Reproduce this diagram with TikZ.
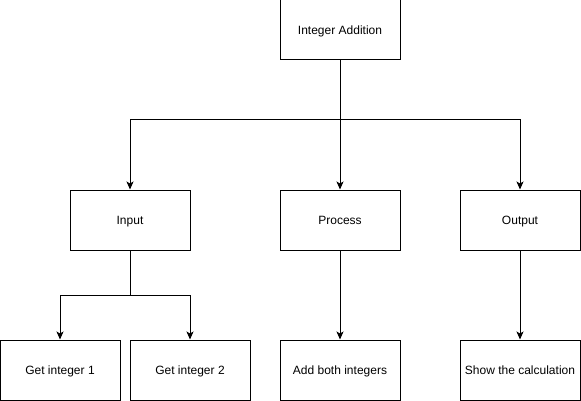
\documentclass[tikz,border=0pt]{standalone}
\usepackage{fontspec}
\setmainfont{Liberation Sans}
\usetikzlibrary{arrows.meta}

\begin{document}
\begin{tikzpicture}[x=1pt,y=-1pt,
  box/.style={draw,line width=1pt,minimum width=120pt,minimum height=60pt,inner sep=0pt,text height=10pt,text depth=1.5pt,font=\fontsize{12}{14}\selectfont},
  arr/.style={line width=1pt,-{Stealth[length=8pt,width=7pt,inset=2pt]}}]
\useasboundingbox (0,0) rectangle (581,401);
\node[box] (top) at (340,30) {Integer Addition};
\node[box] (in) at (130,220) {Input};
\node[box] (proc) at (340,220) {Process};
\node[box] (out) at (520,220) {Output};
\node[box] (get1) at (60,370) {Get integer 1};
\node[box] (get2) at (190,370) {Get integer 2};
\node[box] (add) at (340,370) {Add both integers};
\node[box] (show) at (520,370) {Show the calculation};
% begin connectors
\coordinate (j1) at (340,120);
\coordinate (j2) at (130,295);
\draw[arr] (top.south) -- (proc.north);
\draw[arr] (j1) -| (in.north);
\draw[arr] (j1) -| (out.north);
\draw[line width=1pt] (in.south) -- (j2);
\draw[arr] (j2) -| (get1.north);
\draw[arr] (j2) -| (get2.north);
\draw[arr] (proc.south) -- (add.north);
\draw[arr] (out.south) -- (show.north);
\end{tikzpicture}
\end{document}
